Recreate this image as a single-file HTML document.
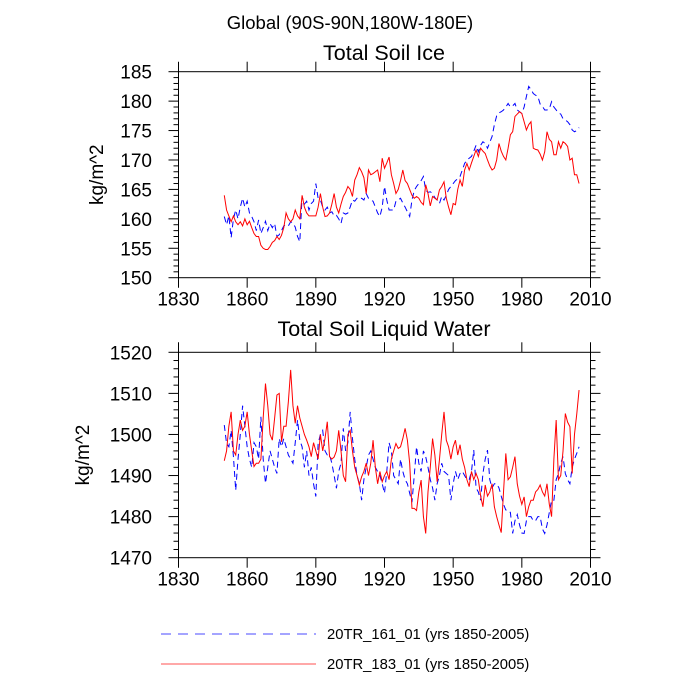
<!DOCTYPE html>
<html><head><meta charset="utf-8"><style>
html,body{margin:0;padding:0;background:#fff;}
svg{display:block;font-family:"Liberation Sans",sans-serif;}
</style></head><body>
<svg id="c" width="700" height="700" viewBox="0 0 700 700" xmlns="http://www.w3.org/2000/svg">
<text x="350" y="29" font-size="18.5" text-anchor="middle">Global (90S-90N,180W-180E)</text>
<g id="p1"></g>
<g id="p2"></g>
<g>
<line x1="161" y1="634" x2="316" y2="634" stroke="#4a4aff" stroke-width="1" stroke-dasharray="10,7"/>
<text x="327" y="639" font-size="14.8">20TR_161_01 (yrs 1850-2005)</text>
<line x1="161" y1="664" x2="316" y2="664" stroke="#ff5050" stroke-width="1"/>
<text x="327" y="669" font-size="14.8">20TR_183_01 (yrs 1850-2005)</text>
</g>
</svg>
<script>
const startYear = 1850;
const xTicks = [1830, 1860, 1890, 1920, 1950, 1980, 2010];
const iceTicks = [150, 155, 160, 165, 170, 175, 180, 185];
const liqTicks = [1470, 1480, 1490, 1500, 1510, 1520];
const iceBlue = [160.4,159,160.5,156.8,160,161.5,160,162,163.5,162,163,161,160.4,159.5,158,159.8,157.5,158.5,159.6,158,159.2,158.5,159.2,157,157.3,158,158.8,159,158.8,159.5,159.3,158.6,157,156.1,163.8,162.5,163,161.5,162.6,163,166,163.5,163.2,162,161.5,162,161,161.2,160.5,160.6,160,159.2,161,160.8,161,162,163.2,163,163.5,163.3,163.5,163.2,164.3,163.5,163.2,163,162,161,160.4,162,165.5,163.2,161.5,161.5,161.5,163,163.2,163.5,162.7,162,161.2,160.4,163.2,164.8,165.5,166,166.5,167.2,164.9,164.5,164.6,164.3,163.6,163.2,162.6,163.8,163.2,164,165,165.5,166,166.5,166.8,167.2,168.3,169.4,170,170.3,170.6,171.5,172.5,171.4,172.5,173.1,172.8,172,173,174,176,177.5,178,178.2,178.5,179,179.6,179,179.2,179.6,178.5,178.2,177.9,179,180.8,182.5,182,181.3,181,180.8,179.5,179.1,178.5,178.5,178.7,179.9,179,178.5,178,177.8,177,176.8,176.5,176,175.1,174.8,175,175.5];
const iceRed = [164,161.5,160.5,159.5,160.5,159.5,159,159.5,158.8,160,159,159.6,158.5,157.5,157,157,155.5,155,154.8,154.8,155.3,156,156.3,157,156.5,157.2,158.5,161,160,159.5,160,161.5,160.5,160,164,162,161,160.5,160.5,160.5,160.5,162,164.3,162,160.4,160.5,161,162.5,164.3,162,161,162.5,163.8,164.5,165.5,165,163.8,166.6,167.5,168.7,168,167,164.3,168.3,167.5,167.7,168,168.3,166.3,170.3,168.6,169.5,170.5,167.5,166,164.3,165,166.5,168.3,166.5,166,165,164,163.5,163.8,163.5,162.8,162.4,165.8,164.3,162.2,163.8,163.5,163.2,164.9,165.5,166.3,163.5,162,160.7,162.6,162.4,165,166.6,165.5,168.3,169.4,168.3,169.5,170.6,171.7,170.6,172,171.5,171.1,170,169,168.3,168.6,170,172.8,171.5,170.6,170,172,174.3,174.8,177.4,177.8,178.2,177.9,176.5,175.1,176,176.5,172,171.8,171.7,171,170,171.4,174.8,173.5,173.1,170.9,170.9,173.1,172,173.1,172.8,172.3,170,170.3,167.5,167.5,166];
const liqBlue = [1502.3,1497.8,1497,1501,1494.6,1486.4,1494,1500,1507,1502,1497,1494,1492,1498,1497,1494,1504.3,1494,1488.1,1492,1496,1494,1492,1490.5,1499,1497,1499,1497,1495,1494,1493,1498,1503.5,1498.6,1497,1492,1496,1490,1492,1488,1484.9,1497.8,1500,1501,1496,1495,1495,1493,1490,1486.9,1491,1493,1501.5,1496,1498,1505.5,1499,1494,1490,1488.1,1484,1489,1492,1495,1496,1494,1492,1491,1490,1488,1485.7,1491,1498,1496,1490,1489,1488,1494,1491,1489,1488,1485.7,1483.5,1490,1497,1493,1491,1496,1494.6,1492,1489,1487,1484,1488,1490,1493,1491,1490.5,1490,1484,1488,1491,1489,1490.5,1491,1490,1489,1489,1491,1496.2,1487,1486,1484,1490.5,1494,1496.2,1489,1487,1488,1488,1487,1485,1483,1481.6,1481.6,1481,1475.9,1479,1480.5,1478,1476,1475.9,1479,1480,1480,1479,1479,1480,1480,1477,1475.9,1478,1481,1484,1484,1489,1490.5,1493,1494.6,1490.5,1489,1488,1492,1494,1495.4,1497];
const liqRed = [1493.6,1496,1502,1505.5,1496,1495,1500,1503.5,1501,1502,1505.5,1500,1496,1492.2,1493,1493,1494,1504,1512.4,1507,1500,1498.6,1504,1509.6,1510,1498.2,1502,1502,1508,1515.7,1507,1502.7,1507,1504,1502,1500,1498.6,1497,1494.6,1498,1496,1494,1500,1496,1499,1503.1,1494.6,1494,1494.5,1496,1501,1496,1490,1488.5,1500,1501,1496,1492,1490,1487.7,1489.7,1491,1493,1490,1493,1498.6,1492,1488,1491,1488.5,1490,1491,1489,1494,1496,1497.8,1496.6,1497,1499,1501.5,1498.6,1493,1482,1482,1481.5,1486,1488.9,1480,1475.9,1486,1492,1499,1495,1488.5,1493.8,1500,1505.5,1498.6,1497,1494,1497,1498.6,1495,1497.5,1494,1492,1489,1487.3,1491,1489,1490.5,1489,1485,1482.4,1487.7,1485,1486,1488,1482.4,1480,1478,1476.1,1486,1495.4,1489,1489.7,1492,1494.6,1488,1485,1483,1484.8,1480,1482.4,1484,1484,1486,1486.6,1487.7,1486,1485,1488,1483,1480,1494,1503.5,1489,1490,1496,1505.1,1503,1501.9,1490.5,1500,1505,1510.8];

const NS = "http://www.w3.org/2000/svg";
function mk(parent, tag, attrs) {
  const e = document.createElementNS(NS, tag);
  for (const k in attrs) e.setAttribute(k, attrs[k]);
  parent.appendChild(e);
  return e;
}
function panel(g, cfg) {
  const L = 178.5, R = 590.5, T = cfg.top, B = cfg.bottom;
  const xs = v => L + (v - 1830) / 180 * (R - L);
  const ys = v => B - (v - cfg.min) / (cfg.max - cfg.min) * (B - T);
  const box = mk(g, 'rect', {x: L, y: T, width: R - L, height: B - T, fill: 'none', stroke: '#000', 'stroke-width': 1});
  
  
  const tt = mk(g, 'text', {x: 384, y: cfg.titleY, 'font-size': 21.5, 'text-anchor': 'middle'});
  tt.textContent = cfg.title;
  
  
  xTicks.forEach((t, i) => {
    const x = xs(t);
    mk(g, 'line', {x1: x, x2: x, y1: T, y2: T - 10, stroke: '#000'});
    mk(g, 'line', {x1: x, x2: x, y1: B, y2: B + 10, stroke: '#000'});
    const lb = mk(g, 'text', {x: x, y: B + 28, 'font-size': 19, 'text-anchor': 'middle'});
    lb.textContent = t;
    
    
  });
  for (let v = cfg.min; v <= cfg.max + 1e-9; v += cfg.minor) {
    const y = ys(v);
    const major = Math.abs(((v - cfg.min) / cfg.step) - Math.round((v - cfg.min) / cfg.step)) < 1e-6;
    const len = major ? 10 : 5;
    mk(g, 'line', {x1: L, x2: L - len, y1: y, y2: y, stroke: '#000'});
    mk(g, 'line', {x1: R, x2: R + len, y1: y, y2: y, stroke: '#000'});
  }
  cfg.ticks.forEach(t => {
    const lb = mk(g, 'text', {x: 152, y: ys(t) + 7, 'font-size': 19, 'text-anchor': 'end'});
    lb.textContent = t;
    
    
  });
  const yt = mk(g, 'text', {x: 0, y: 0, 'font-size': 19, 'text-anchor': 'middle', transform: `translate(${cfg.ytX},${(T + B) / 2}) rotate(-90)`});
  yt.textContent = 'kg/m^2';
  
  
  const pts = arr => arr.map((v, i) => xs(startYear + i).toFixed(2) + ',' + ys(v).toFixed(2)).join(' ');
  const b = mk(g, 'polyline', {points: pts(cfg.blue), fill: 'none', stroke: '#0000ff', 'stroke-width': 1, 'stroke-dasharray': '6,4'});
  
  
  const r = mk(g, 'polyline', {points: pts(cfg.red), fill: 'none', stroke: '#ff0000', 'stroke-width': 1});
  
  
}
panel(document.getElementById('p1'), {top: 71.7, bottom: 277.7, min: 150, max: 185, step: 5, minor: 1, ticks: iceTicks, title: 'Total Soil Ice', titleY: 60, ytX: 103, blue: iceBlue, red: iceRed});
panel(document.getElementById('p2'), {top: 352.3, bottom: 557.7, min: 1470, max: 1520, step: 10, minor: 2, ticks: liqTicks, title: 'Total Soil Liquid Water', titleY: 336, ytX: 89, blue: liqBlue, red: liqRed});
</script>
</body></html>
